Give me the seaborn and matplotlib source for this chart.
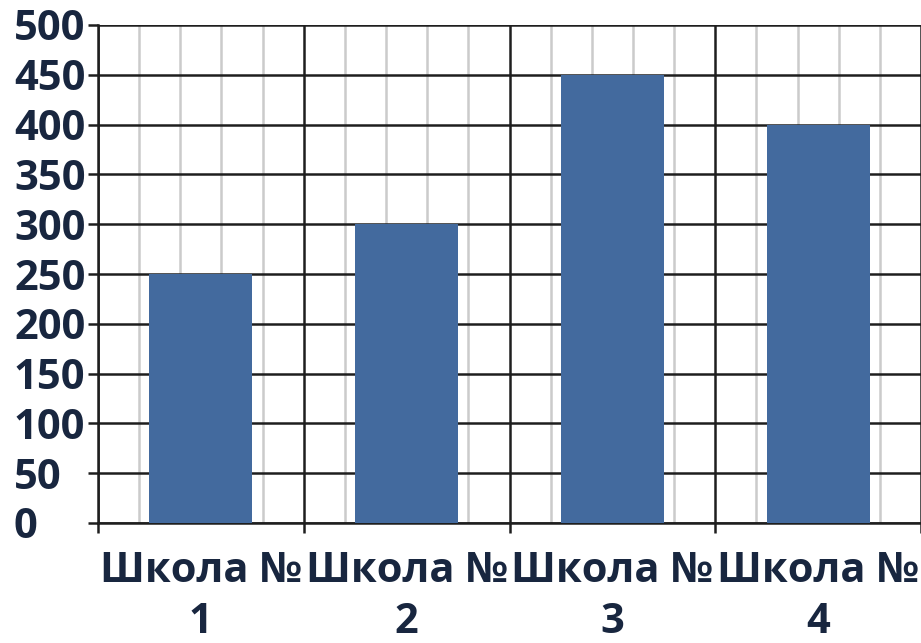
import matplotlib
matplotlib.use("Agg")
import matplotlib.pyplot as plt
import numpy as np
import pandas as pd
import seaborn as sns

sns.set_style("white")
plt.rcParams["font.family"] = ["Open Sans", "DejaVu Sans"]

schools = ["Школа №\n1", "Школа №\n2", "Школа №\n3", "Школа №\n4"]
students = [250, 300, 450, 400]
yticks = list(range(0, 501, 50))

BAR_COLOR = "#436A9E"
TEXT_COLOR = "#18263F"
LINE_COLOR = "#1E1E1E"
MINOR_COLOR = "#CBCBCB"

data = pd.DataFrame({"school": schools, "count": students})

fig = plt.figure(figsize=(9.21, 6.43), dpi=100)
ax = fig.add_axes([98 / 921, 1 - 523 / 643, 1 - 98 / 921, (523 - 25) / 643])

n = len(schools)
# light grey lines splitting each category into fifths
for x in np.arange(-0.5, n - 0.5, 0.2):
    if abs((x + 0.5) % 1) > 1e-6 and abs((x + 0.5) % 1 - 1) > 1e-6:
        ax.axvline(x, color=MINOR_COLOR, lw=1.8, zorder=0)

sns.barplot(data=data, x="school", y="count", color=BAR_COLOR, width=0.5,
            saturation=1, linewidth=0, edgecolor="none", ax=ax, zorder=3)

ax.set_xlim(-0.5, n - 0.5)
ax.set_ylim(0, 500)
ax.set_yticks(yticks)
ax.set_xticks(np.arange(-0.5, n, 1.0), minor=True)
ax.set_axisbelow(True)
ax.grid(True, axis="y", which="major", color=LINE_COLOR, lw=1.8, zorder=1)
ax.grid(True, axis="x", which="minor", color=LINE_COLOR, lw=1.8, zorder=1)
ax.grid(False, axis="x", which="major")

for s in ["top", "right"]:
    ax.spines[s].set_visible(False)
for s in ["left", "bottom"]:
    ax.spines[s].set_color(LINE_COLOR)
    ax.spines[s].set_linewidth(1.8)

# y labels are left aligned starting near the figure edge
ax.tick_params(axis="y", length=7, width=1.8, color=LINE_COLOR, pad=53.5,
               labelsize=30, labelcolor=TEXT_COLOR, left=True)
ax.tick_params(axis="x", which="minor", length=7, width=1.8, color=LINE_COLOR,
               bottom=True)
ax.tick_params(axis="x", which="major", length=0, pad=20, labelsize=30,
               labelcolor=TEXT_COLOR)
for lbl in ax.get_yticklabels():
    lbl.set_fontweight("bold")
    lbl.set_horizontalalignment("left")
for lbl in ax.get_xticklabels():
    lbl.set_fontweight("bold")
    lbl.set_linespacing(1.33)

ax.set_xlabel("")
ax.set_ylabel("")

fig.savefig("out.png", dpi=100)
